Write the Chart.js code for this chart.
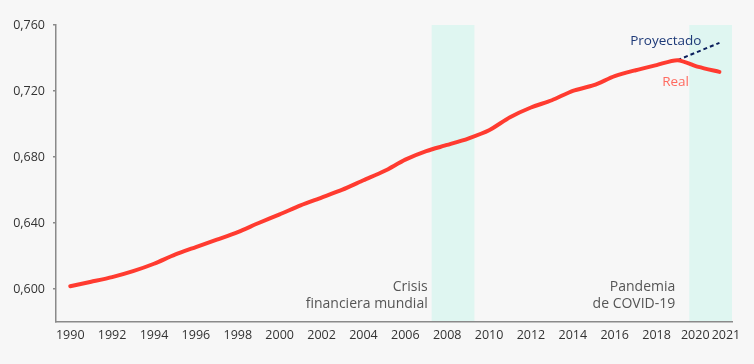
<!DOCTYPE html>
<html>
<head>
<meta charset="utf-8">
<script src="https://cdn.jsdelivr.net/npm/chart.js@4"></script>
<style>
  body { margin: 0; background: #f7f7f7; }
  #wrap { width: 754px; height: 364px; }
</style>
</head>
<body>
<div id="wrap"><canvas id="line_chart" width="754" height="364"></canvas></div>
<script>
// datos
var years = [1990, 1991, 1992, 1993, 1994, 1995, 1996, 1997, 1998, 1999,
             2000, 2001, 2002, 2003, 2004, 2005, 2006, 2007, 2008, 2009,
             2010, 2011, 2012, 2013, 2014, 2015, 2016, 2017, 2018, 2019,
             2020, 2021];
var real = [0.6017, 0.6044, 0.6072, 0.6108, 0.6153, 0.6208, 0.6254, 0.6299, 0.6345, 0.6400,
            0.6452, 0.6507, 0.6554, 0.6602, 0.6659, 0.6715, 0.6784, 0.6836, 0.6873, 0.6912,
            0.6962, 0.7041, 0.7100, 0.7144, 0.7201, 0.7235, 0.7290, 0.7326, 0.7357, 0.7387,
            0.7346, 0.7316];
var projYears = [2019, 2021];
var projected = [0.7387, 0.7492];

var xTicks = [1990, 1992, 1994, 1996, 1998, 2000, 2002, 2004, 2006, 2008, 2010,
              2012, 2014, 2016, 2018, 2020, 2021];
var yTicks = [0.60, 0.64, 0.68, 0.72, 0.76];

var bandStarts = [2007.26, 2019.56];
var bandEnds = [2009.3, 2021.6];
var bandLabels = [["Crisis", "financiera mundial"], ["Pandemia", "de COVID-19"]];

function toPoints(xs, ys) {
    var pts = [];
    for (var i = 0; i < xs.length; i++) {
        pts.push({x: xs[i], y: ys[i]});
    }
    return pts;
}

var bandsPlugin = {
    id: 'bands',
    beforeDraw: function (chart) {
        var ctx = chart.ctx, x = chart.scales.x, area = chart.chartArea;
        ctx.save();
        ctx.fillStyle = '#dff6f1';
        for (var i = 0; i < bandStarts.length; i++) {
            var x0 = x.getPixelForValue(bandStarts[i]);
            var x1 = Math.min(x.getPixelForValue(bandEnds[i]), area.right);
            ctx.fillRect(x0, area.top, x1 - x0, area.bottom - area.top);
        }
        ctx.restore();
    },
    afterDatasetsDraw: function (chart) {
        var ctx = chart.ctx, x = chart.scales.x, y = chart.scales.y, area = chart.chartArea;
        ctx.save();
        ctx.font = '14px "Open Sans"';
        ctx.textBaseline = 'middle';
        ctx.textAlign = 'right';
        ctx.fillStyle = '#555';
        var gaps = [4, 14];
        for (var i = 0; i < bandLabels.length; i++) {
            var xr = x.getPixelForValue(bandStarts[i]) - gaps[i];
            ctx.fillText(bandLabels[i][0], xr, area.bottom - 35);
            ctx.fillText(bandLabels[i][1], xr, area.bottom - 18);
        }
        // etiquetas de series
        ctx.font = '13.5px "Open Sans"';
        ctx.fillStyle = '#1e3a78';
        ctx.fillText('Proyectado', x.getPixelForValue(2021) - 18, y.getPixelForValue(projected[1]) - 2);
        ctx.textAlign = 'center';
        ctx.fillStyle = '#ff6a60';
        ctx.fillText('Real', x.getPixelForValue(2019) - 2, y.getPixelForValue(real[29]) + 22);
        ctx.restore();
    }
};

Chart.defaults.font.family = '"Open Sans"';
Chart.defaults.font.size = 12.5;
Chart.defaults.color = '#333';

new Chart(document.getElementById("line_chart").getContext("2d"), {
    type: 'line',
    data: {
        datasets: [{
            label: 'Real',
            data: toPoints(years, real),
            borderColor: '#ff3b30',
            borderWidth: 4,
            borderCapStyle: 'round',
            borderJoinStyle: 'round',
            pointRadius: 0,
            tension: 0.25,
            fill: false
        }, {
            label: 'Proyectado',
            data: toPoints(projYears, projected),
            borderColor: '#0b1f5c',
            borderWidth: 2,
            borderDash: [4, 3],
            pointRadius: 0,
            fill: false
        }]
    },
    options: {
        responsive: false,
        animation: false,
        layout: { padding: { top: 25, right: 22, left: 0, bottom: 0 } },
        plugins: { legend: { display: false }, tooltip: { enabled: false } },
        scales: {
            x: {
                type: 'linear',
                min: 1989.32,
                max: 2021.6,
                afterBuildTicks: function (scale) {
                    scale.ticks = xTicks.map(function (v) { return {value: v}; });
                },
                afterFit: function (scale) { scale.height = 42; },
                ticks: {
                    autoSkip: false,
                    maxRotation: 0,
                    padding: 6,
                    callback: function (v) {
                        if (v === 2020) return '2020  ';
                        if (v === 2021) return '    2021';
                        return String(v);
                    }
                },
                grid: { display: false, drawTicks: false },
                border: { display: true, color: '#8a8a8a', width: 1.5 }
            },
            y: {
                min: 0.58,
                max: 0.76,
                afterBuildTicks: function (scale) {
                    scale.ticks = yTicks.map(function (v) { return {value: v}; });
                },
                afterFit: function (scale) { scale.width = 56; },
                ticks: {
                    padding: 8,
                    callback: function (v) { return v.toFixed(3).replace('.', ','); }
                },
                grid: { display: true, drawOnChartArea: false, drawTicks: true, tickLength: 3, color: '#8a8a8a', lineWidth: 1.5 },
                border: { display: true, color: '#8a8a8a', width: 1.5 }
            }
        }
    },
    plugins: [bandsPlugin]
});
</script>
</body>
</html>
